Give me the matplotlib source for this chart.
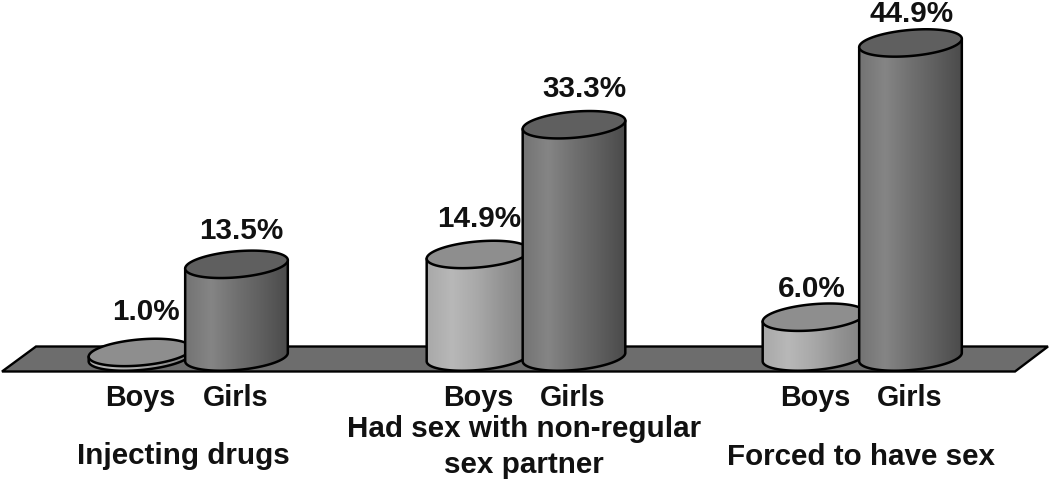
import numpy as np
import matplotlib
matplotlib.use("Agg")
import matplotlib.pyplot as plt
from matplotlib.patches import Polygon
from matplotlib.colors import LinearSegmentedColormap

groups = ["Injecting drugs", "Had sex with non-regular\nsex partner", "Forced to have sex"]
sexes = ["Boys", "Girls"]
boys = [1.0, 14.9, 6.0]
girls = [13.5, 33.3, 44.9]

plt.rcParams['font.family'] = ['Liberation Sans', 'DejaVu Sans']
plt.rcParams['font.weight'] = 'bold'

W, H = 1050, 482
y0 = 359.5    # pixel row of value 0
k = 7.05      # pixels per percent
base = 0.35   # cylinders stand slightly above the zero row

fig = plt.figure(figsize=(W / 100, H / 100), dpi=100)
ax = fig.add_axes([0, 0, 1, 1])
ax.axis('off')

boys_cm = LinearSegmentedColormap.from_list('b', ['#a8a8a8', '#b8b8b8', '#a8a8a8', '#929292', '#808080'])
girls_cm = LinearSegmentedColormap.from_list('g', ['#737373', '#858585', '#707070', '#5e5e5e', '#4a4a4a'])
grad = np.linspace(0, 1, 256).reshape(1, -1)


def py(p):
    # pixel row -> value axis
    return (y0 - p) / k


# floor
floor = [(36, py(346.5)), (1048, py(346.5)), (1015, py(371.5)), (2, py(371.5))]
ax.add_patch(Polygon(floor, closed=True, fc='#6d6d6d', ec='black', lw=1.7, zorder=1))


def ellipse(cx, v, a=51.5, b=13, tilt=-5):
    t = np.linspace(0, 2 * np.pi, 241)
    th = np.radians(tilt)
    dx = a * np.cos(t) * np.cos(th) - b * np.sin(t) * np.sin(th)
    dy = a * np.cos(t) * np.sin(th) + b * np.sin(t) * np.cos(th)
    return cx + dx, v - dy / k


def cylinder(cx, v, cm, top, z):
    ex, ey = ellipse(cx, v)
    bx, by = ellipse(cx, base)
    # lower half of the base ellipse, from the right side round to the left
    i_r, i_l = np.argmax(bx), np.argmin(bx)
    low = np.arange(i_r, i_l + 1)
    j_r, j_l = np.argmax(ex), np.argmin(ex)
    body = np.vstack([[ex[j_l], ey[j_l]],
                      [ex[j_r], ey[j_r]],
                      np.column_stack([bx[low], by[low]])])
    p = Polygon(body, closed=True, fc='none', ec='black', lw=1.8, zorder=z + 0.2, joinstyle='round')
    im = ax.imshow(grad, extent=(cx - 52, cx + 52, -3, v + 3), aspect='auto', cmap=cm,
                   vmin=0, vmax=1, zorder=z)
    ax.add_patch(p)
    im.set_clip_path(Polygon(body, closed=True, transform=ax.transData))
    ax.fill(ex, ey, fc=top, ec='black', lw=1.8, zorder=z + 0.3)


bx_c = [140, 478, 814]
gx_c = [236.5, 574, 910.5]
for i in range(3):
    cylinder(bx_c[i], boys[i], boys_cm, '#8e8e8e', 2 + i * 2)
    cylinder(gx_c[i], girls[i], girls_cm, '#5f5f5f', 3 + i * 2)

ax.set_xlim(0, W)
ax.set_ylim(py(H), py(0))

# value labels, offsets in pixels above the cylinder top
for x, v, d in zip([146, 479, 812], boys, [40.5, 35.8, 28.2]):
    ax.text(x, v + d / k, "%.1f%%" % v, ha='center', va='center', fontsize=21.3, color='#111111', zorder=20)
for x, v, d in zip([241, 584, 912], girls, [33.3, 35.7, 29.3]):
    ax.text(x, v + d / k, "%.1f%%" % v, ha='center', va='center', fontsize=21.3, color='#111111', zorder=20)

# category text
for x, s in zip([140, 478, 815, 236, 573, 910], sexes[:1] * 3 + sexes[1:] * 3):
    ax.text(x, py(398), s, ha='center', va='center', fontsize=20.7, color='#111111')
for x, p, s in zip([183, 524, 861], [456, 447, 457], groups):
    ax.text(x, py(p), s, ha='center', va='center', fontsize=21.3, color='#111111', linespacing=1.35)

fig.savefig('out.png', dpi=100)
